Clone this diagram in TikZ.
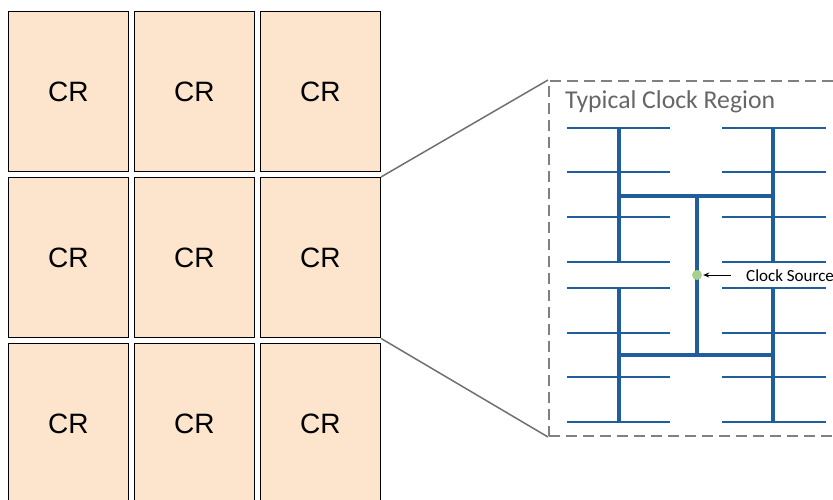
\documentclass[tikz,border=0pt]{standalone}
\usepackage{fontspec}
\setmainfont{Liberation Sans}
\newfontfamily\calibri{Carlito}
\usetikzlibrary{arrows.meta}

\definecolor{crfill}{RGB}{252,228,205}
\definecolor{treeblue}{RGB}{31,93,156}
\definecolor{zoomgray}{RGB}{112,112,112}
\definecolor{dashgray}{RGB}{128,128,128}
\definecolor{titlegray}{RGB}{102,102,102}
\definecolor{srcgreen}{RGB}{169,209,142}

\tikzset{
  crbox/.style={draw=black, line width=1.5pt, fill=crfill, minimum width=120pt,
                minimum height=160pt, inner sep=0pt, font=\fontsize{28}{28}\selectfont},
  zoomline/.style={draw=zoomgray, line width=1.5pt},
  regionbox/.style={draw=dashgray, line width=2pt, dash pattern=on 11pt off 6pt},
  leaf/.style={treeblue, line width=2pt},
  trunk/.style={treeblue, line width=3.3pt},
}

\begin{document}
\begin{tikzpicture}[x=1pt, y=-1pt]

\useasboundingbox (0,0) rectangle (833,499);
\clip (0,0) rectangle (833,499);

% grid of clock regions
\foreach \r in {1,2,3}
    \foreach \c in {1,2,3}
        \node [crbox] (cr\r\c) at ({68.3+126*(\c-1)}, {91.7+166*(\r-1)}) {CR};

\node [regionbox, minimum width=296pt, minimum height=355pt, inner sep=0pt] (region) at (697,258.5) {};

\draw [zoomline] (cr23.north east) -- (region.north west);
\draw [zoomline] (cr23.south east) -- (region.south west);

\node [anchor=base west, inner sep=0pt, text=titlegray, font=\calibri\fontsize{25.7}{25.7}\selectfont] (title) at (565,108.3) {Typical Clock Region};

% clock tree
\coordinate (0) at (619,128);
\coordinate (1) at (619,262);
\coordinate (2) at (773,128);
\coordinate (3) at (773,262);
\coordinate (4) at (619,288);
\coordinate (5) at (619,422);
\coordinate (6) at (773,288);
\coordinate (7) at (773,422);

\foreach \y in {128,172,217,262,288,333,377,422} {
    \draw [leaf] (567,\y) -- (670,\y);
    \draw [leaf] (722,\y) -- (826,\y);
}

\draw [trunk] (0) -- (1);
\draw [trunk] (2) -- (3);
\draw [trunk] (4) -- (5);
\draw [trunk] (6) -- (7);
\draw [trunk] (619,196) -- (773,196);
\draw [trunk] (619,355) -- (773,355);
\draw [trunk] (697,196) -- (697,355);

\node [circle, fill=srcgreen, minimum size=10pt, inner sep=0pt] (src) at (697,275) {};
\node [anchor=base west, inner sep=0pt, font=\calibri\fontsize{17}{17}\selectfont] (lbl) at (746,281.7) {Clock Source};

\draw [-{Stealth[length=6pt,width=5pt]}, line width=1pt, shorten <=15pt, shorten >=1pt] (lbl.west |- src) -- (src);

\end{tikzpicture}
\end{document}
